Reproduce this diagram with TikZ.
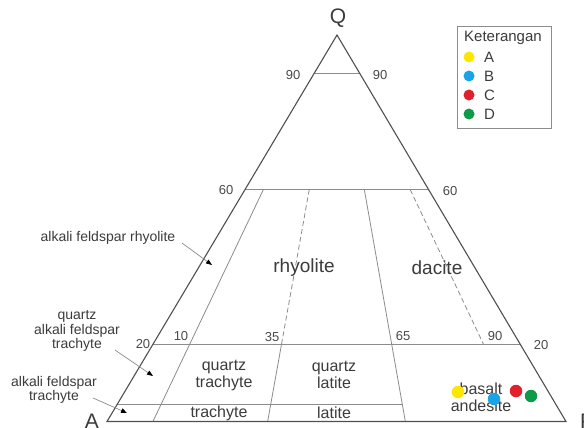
\documentclass[tikz,border=0pt]{standalone}
\usepackage{fontspec}
\setmainfont{Liberation Sans}
\usetikzlibrary{calc,arrows.meta}
\definecolor{txt}{HTML}{3C3C3C}
\definecolor{numc}{HTML}{4A4A4A}
\definecolor{frame}{HTML}{505050}
\definecolor{inner}{HTML}{8C8C8C}
\definecolor{dotA}{HTML}{FFE600}
\definecolor{dotB}{HTML}{1BA3E8}
\definecolor{dotC}{HTML}{E2202C}
\definecolor{dotD}{HTML}{0E9A48}
\begin{document}
\begin{tikzpicture}[x=1pt,y=-1pt,
  outer/.style={draw=frame, line width=1.1pt, line join=miter},
  field/.style={draw=inner, line width=0.8pt},
  dashfield/.style={field, dash pattern=on 5pt off 3pt},
  num/.style={text=numc, font=\fontsize{13}{13}\selectfont, inner sep=0pt},
  big/.style={text=txt, font=\fontsize{19}{19}\selectfont, inner sep=0pt},
  fld/.style={text=txt, font=\fontsize{16}{17}\selectfont, align=center, inner sep=0pt},
  ann/.style={text=txt, font=\fontsize{14}{14.5}\selectfont, align=center, inner sep=0pt},
  pointer/.style={draw=inner, line width=0.7pt, -{Triangle[length=6pt,width=4.5pt,color=black]}},
  vertex/.style={text=txt, font=\fontsize{21}{21}\selectfont, inner sep=0pt},
  sample/.style={circle, inner sep=0pt, minimum size=12.5pt},
  key/.style={circle, inner sep=0pt, minimum size=11pt},
  legtxt/.style={text=txt, font=\fontsize{15}{15}\selectfont, inner sep=0pt, anchor=west},
  legbox/.style={draw=inner, line width=0.8pt}
]
\useasboundingbox (0,0) rectangle (584,428);
\fill[white] (0,0) rectangle (584,428);

% vertices
\coordinate (Q) at (337,35);
\coordinate (A) at (107,421.5);
\coordinate (P) at (566,421.5);

% ratio points on A-P
\coordinate (b10) at ($(A)!0.10!(P)$);
\coordinate (b35) at ($(A)!0.35!(P)$);
\coordinate (b65) at ($(A)!0.65!(P)$);
\coordinate (b90) at ($(A)!0.90!(P)$);

% horizontal level lines
\draw[field] ($(A)!0.9!(Q)$) -- ($(P)!0.9!(Q)$);
\draw[field] ($(A)!0.6!(Q)$) -- ($(P)!0.6!(Q)$);
\draw[field] ($(A)!0.2!(Q)$) -- ($(P)!0.2!(Q)$);
\draw[field] ($(A)!0.045!(Q)$) -- ($(b65)!0.045!(Q)$);

% ratio lines
\draw[field] ($(b10)!0.6!(Q)$) -- (b10);
\draw[dashfield] ($(b35)!0.6!(Q)$) -- ($(b35)!0.2!(Q)$);
\draw[field] ($(b35)!0.2!(Q)$) -- (b35);
\draw[field] ($(b65)!0.6!(Q)$) -- (b65);
\draw[dashfield] ($(b90)!0.6!(Q)$) -- ($(b90)!0.2!(Q)$);

% outer triangle
\draw[outer] (A) -- (P) -- (Q) -- cycle;

% vertex labels
\node[vertex] (lQ) at (338,18) {Q};
\node[vertex] (lA) at (92,421) {A};
\node[vertex] (lP) at (587,421) {P};

% numbers
\node[num] (n90l) at (293,75) {90};
\node[num] (n90r) at (380,75) {90};
\node[num] (n60l) at (226,190) {60};
\node[num] (n60r) at (450,191) {60};
\node[num] (n20l) at (143,344) {20};
\node[num] (n10) at (181,336) {10};
\node[num] (n35) at (272,337) {35};
\node[num] (n65) at (403,336) {65};
\node[num] (n90b) at (495,336) {90};
\node[num] (n20r) at (541,345) {20};

% field labels
\node[big] (rhy) at (304,268) {rhyolite};
\node[big] (dac) at (437,268) {dacite};
\node[fld] (qtr) at (224,375) {quartz\\trachyte};
\node[fld] (qlat) at (334,375) {quartz\\latite};
\node[fld] (tra) at (219,413) {trachyte};
\node[fld] (lat) at (334,413) {latite};
\node[fld, text depth=0pt] (basand) at (481,397) {\fontsize{16}{19}\selectfont basalt\\andesite};

% annotations
\node[ann] (afr) at (108,238) {alkali feldspar rhyolite};
\node[ann] (qaft) at (77,331) {quartz\\alkali feldspar\\trachyte};
\node[ann] (aft) at (54,390) {alkali feldspar\\trachyte};
\coordinate (s1) at (182,243);
\coordinate (t1) at (212,265);
\coordinate (s2) at (115,350);
\coordinate (t2) at (153,376);
\coordinate (s3) at (93,398);
\coordinate (t3) at (127,413);
\draw[pointer] (s1) -- (t1);
\draw[pointer] (s2) -- (t2);
\draw[pointer] (s3) -- (t3);

% sample points
\node[sample, fill=dotA] (pA) at (458,392) {};
\node[sample, fill=dotB] (pB) at (494,399) {};
\node[sample, fill=dotC] (pC) at (516,391) {};
\node[sample, fill=dotD] (pD) at (531,396) {};

% legend
\draw[legbox] (457,26) rectangle (551,128);
\node[legtxt] (ket) at (464,38) {Keterangan};
\node[key, fill=dotA] (kA) at (469,57) {};
\node[key, fill=dotB] (kB) at (469,76) {};
\node[key, fill=dotC] (kC) at (469,95) {};
\node[key, fill=dotD] (kD) at (469,114) {};
\node[legtxt] (lkA) at (484,57) {A};
\node[legtxt] (lkB) at (484,76) {B};
\node[legtxt] (lkC) at (484,95) {C};
\node[legtxt] (lkD) at (484,114) {D};
\end{tikzpicture}
\end{document}
